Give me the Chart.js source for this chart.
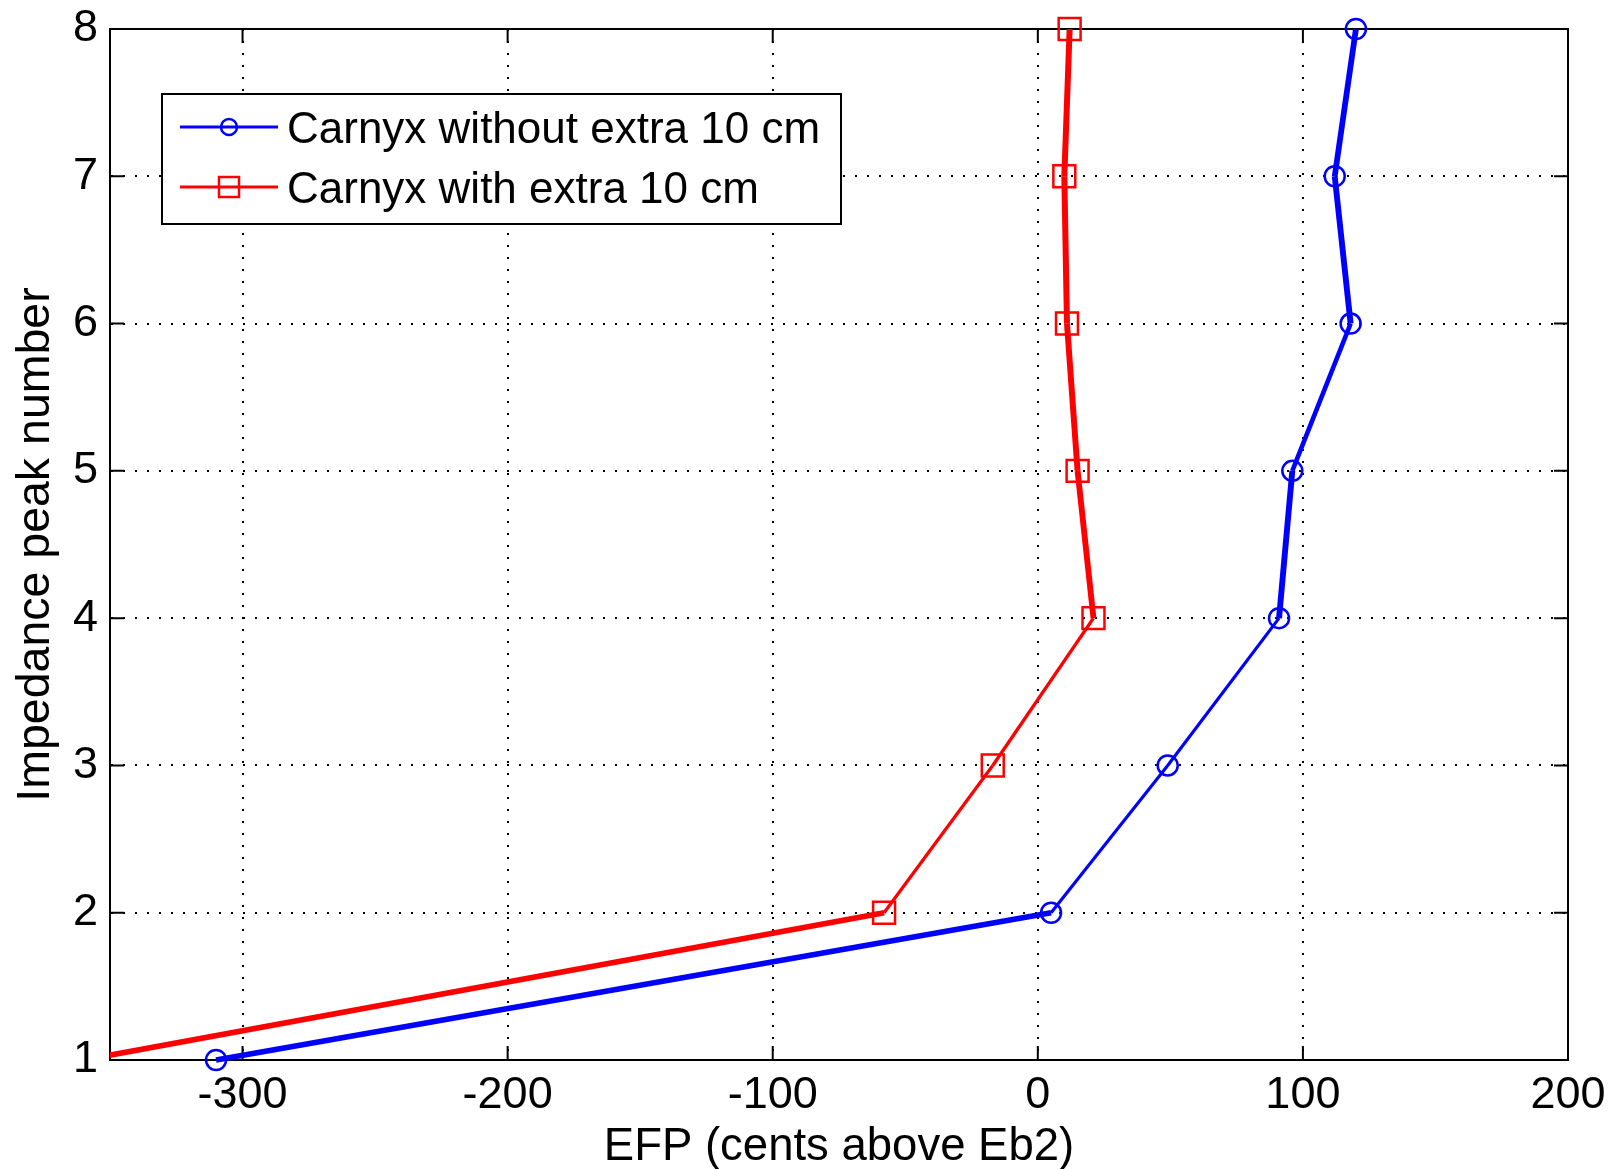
<!DOCTYPE html>
<html>
<head>
<meta charset="utf-8">
<script src="https://cdn.jsdelivr.net/npm/chart.js@4.4.1/dist/chart.umd.min.js"></script>
<style>
  html, body { margin: 0; padding: 0; background: #fff; }
  #wrap { width: 1618px; height: 1169px; }
</style>
</head>
<body>
<div id="wrap"><canvas id="efpChart" width="1618" height="1169"></canvas></div>
<script>
// impedance peak numbers (y) and EFP values in cents above Eb2 (x)
const peakNumbers = [1, 2, 3, 4, 5, 6, 7, 8];
const efpWithout = [-310, 5, 49, 91, 96, 118, 112, 120];
const efpWith = [-360, -58, -17, 21, 15, 11, 10, 12];
const seriesLabels = ['Carnyx without extra 10 cm', 'Carnyx with extra 10 cm'];
const xTickValues = [-300, -200, -100, 0, 100, 200];

const FONT = '"Liberation Sans", Arial, Helvetica, sans-serif';

// matlab-ish aliasing: near horizontal/vertical segments look thicker
function segWidth(ctx) {
    const dx = Math.abs(ctx.p1.x - ctx.p0.x);
    const dy = Math.abs(ctx.p1.y - ctx.p0.y);
    const th = Math.atan2(dy, dx);
    return 3 + 3 * Math.pow(Math.abs(Math.cos(2 * th)), 2);
}

const boxPlugin = {
    id: 'boxPlugin',
    beforeDatasetsDraw(chart) {
        const {ctx, chartArea: a, scales} = chart;
        ctx.save();
        ctx.strokeStyle = '#000';
        ctx.lineWidth = 2;
        ctx.strokeRect(a.left, a.top, a.right - a.left, a.bottom - a.top);
        // inward ticks on all four sides
        const len = 14;
        ctx.beginPath();
        scales.x.ticks.forEach(t => {
            const px = scales.x.getPixelForValue(t.value);
            ctx.moveTo(px, a.bottom); ctx.lineTo(px, a.bottom - len);
            ctx.moveTo(px, a.top); ctx.lineTo(px, a.top + len);
        });
        scales.y.ticks.forEach(t => {
            const py = scales.y.getPixelForValue(t.value);
            ctx.moveTo(a.left, py); ctx.lineTo(a.left + len, py);
            ctx.moveTo(a.right, py); ctx.lineTo(a.right - len, py);
        });
        ctx.stroke();
        ctx.restore();
    }
};

const legendPlugin = {
    id: 'boxLegend',
    afterDatasetsDraw(chart) {
        const {ctx, chartArea: a} = chart;
        const bx = a.left + 52, by = a.top + 65, bw = 679, bh = 130;
        ctx.save();
        ctx.fillStyle = '#fff';
        ctx.fillRect(bx, by, bw, bh);
        ctx.strokeStyle = '#000';
        ctx.lineWidth = 2;
        ctx.strokeRect(bx, by, bw, bh);
        chart.data.datasets.forEach((ds, i) => {
            const ry = a.top + 98 + i * 60;
            ctx.strokeStyle = ds.borderColor;
            ctx.lineWidth = 3;
            ctx.beginPath();
            ctx.moveTo(a.left + 70, ry);
            ctx.lineTo(a.left + 168, ry);
            ctx.stroke();
            ctx.lineWidth = 2.5;
            const mx = a.left + 119;
            if (ds.pointStyle === 'rect') {
                ctx.strokeRect(mx - 10, ry - 10, 20, 20);
            } else {
                ctx.beginPath();
                ctx.arc(mx, ry, 8, 0, Math.PI * 2);
                ctx.stroke();
            }
            ctx.fillStyle = '#000';
            ctx.font = '44px ' + FONT;
            ctx.textBaseline = 'middle';
            ctx.textAlign = 'left';
            ctx.fillText(ds.label, a.left + 177, ry + 4);
        });
        ctx.restore();
    }
};

const datasets = [
    {
        label: seriesLabels[0],
        data: peakNumbers.map((p, i) => ({x: efpWithout[i], y: p})),
        borderColor: '#0000ff',
        pointBorderColor: '#0000ff',
        pointBackgroundColor: 'rgba(0,0,0,0)',
        pointStyle: 'circle',
        pointRadius: 10,
        pointBorderWidth: 2.5,
        borderWidth: 3,
        segment: { borderWidth: segWidth },
        tension: 0,
        clip: {left: 0, top: false, right: false, bottom: false}
    },
    {
        label: seriesLabels[1],
        data: peakNumbers.map((p, i) => ({x: efpWith[i], y: p})),
        borderColor: '#ff0000',
        pointBorderColor: '#ff0000',
        pointBackgroundColor: 'rgba(0,0,0,0)',
        pointStyle: 'rect',
        pointRadius: 15.5,
        pointBorderWidth: 2.5,
        borderWidth: 3,
        segment: { borderWidth: segWidth },
        tension: 0,
        clip: {left: 0, top: false, right: false, bottom: false}
    }
];

const gridOpts = { color: '#000', lineWidth: 2, drawTicks: false };
const borderOpts = { display: true, color: '#000', width: 2, dash: [2, 10] };

new Chart(document.getElementById('efpChart').getContext('2d'), {
    type: 'line',
    data: { datasets: datasets },
    options: {
        responsive: false,
        animation: false,
        devicePixelRatio: 1,
        layout: { padding: { top: 29, right: 50, left: 0, bottom: 0 } },
        plugins: { legend: { display: false }, tooltip: { enabled: false } },
        scales: {
            x: {
                type: 'linear',
                min: -350,
                max: 200,
                grid: gridOpts,
                border: borderOpts,
                ticks: { color: '#000', padding: 9,
                         font: { family: FONT, size: 45 }, maxRotation: 0 },
                title: { display: true, text: 'EFP (cents above Eb2)', color: '#000',
                         font: { family: FONT, size: 45.5, lineHeight: 1 },
                         padding: { top: 0, bottom: -1 } },
                afterBuildTicks: s => { s.ticks = xTickValues.map(v => ({value: v})); },
                afterFit: s => { s.height = 109; }
            },
            y: {
                type: 'linear',
                min: 1,
                max: 8,
                grid: gridOpts,
                border: borderOpts,
                ticks: { stepSize: 1, color: '#000', padding: 12,
                         font: { family: FONT, size: 45, lineHeight: 0.7 } },
                title: { display: true, text: 'Impedance peak number', color: '#000',
                         font: { family: FONT, size: 46.5, lineHeight: 1 },
                         padding: { top: 13, bottom: 0 } },
                afterFit: s => { s.width = 110; }
            }
        }
    },
    plugins: [boxPlugin, legendPlugin]
});
</script>
</body>
</html>
